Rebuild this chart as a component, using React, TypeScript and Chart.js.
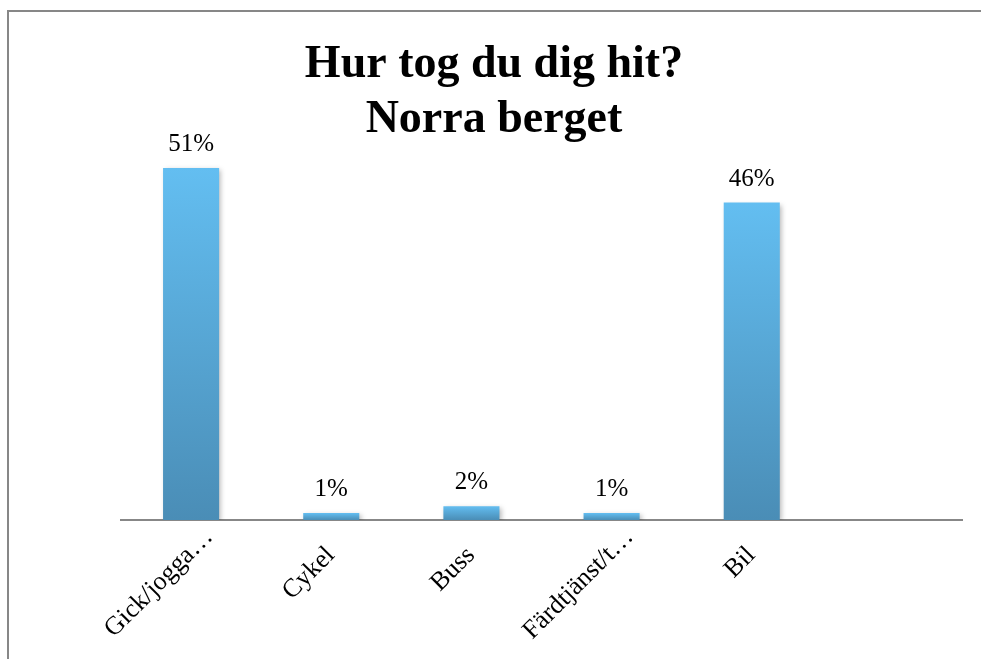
import React, { useEffect, useRef } from "react";
import { Chart, registerables } from "chart.js";

Chart.register(...registerables);

const titleLines = ["Hur tog du dig hit?", "Norra berget"];
const categories = ["Gick/jogga…", "Cykel", "Buss", "Färdtjänst/t…", "Bil", ""];
const values = [51, 1, 2, 1, 46, null];
const yMax = 53;

const TOP_COLOR = "#63bef1";
const BOTTOM_COLOR = "#4a8db6";

const labelPlugin = {
  id: "valueLabels",
  beforeDatasetsDraw(chart: any) {
    const ctx = chart.ctx;
    ctx.save();
    ctx.shadowColor = "rgba(0,0,0,0.28)";
    ctx.shadowBlur = 5;
    ctx.shadowOffsetX = 2;
    ctx.shadowOffsetY = 2;
  },
  afterDatasetsDraw(chart: any) {
    const ctx = chart.ctx;
    ctx.restore();
    const meta = chart.getDatasetMeta(0);
    ctx.save();
    ctx.font = "25px 'Liberation Serif'";
    ctx.fillStyle = "#000";
    ctx.textAlign = "center";
    ctx.textBaseline = "alphabetic";
    meta.data.forEach((el: any, i: number) => {
      const v = values[i];
      if (v === null || v === undefined) return;
      ctx.fillText(v + "%", el.x, el.y - 17);
    });
    ctx.restore();
  },
};

export default function App() {
  const ref = useRef<HTMLCanvasElement>(null);
  useEffect(() => {
    if (!ref.current) return;
    const chart = new Chart(ref.current, {
      type: "bar",
      data: {
        labels: categories,
        datasets: [
          {
            data: values as any,
            backgroundColor: (c: any) => {
              const chart = c.chart;
              const v = c.raw;
              if (!chart.chartArea || v === null || v === undefined) return TOP_COLOR;
              const ys = chart.scales.y;
              const top = ys.getPixelForValue(v);
              const bottom = ys.getPixelForValue(0);
              if (!isFinite(top) || !isFinite(bottom) || bottom - top < 0.5) return TOP_COLOR;
              const g = chart.ctx.createLinearGradient(0, top, 0, bottom);
              g.addColorStop(0, TOP_COLOR);
              g.addColorStop(1, BOTTOM_COLOR);
              return g;
            },
            borderWidth: 0,
            categoryPercentage: 1,
            barPercentage: 0.4,
          },
        ],
      },
      options: {
        responsive: false,
        animation: false,
        events: [],
        layout: { padding: { left: 26, right: 19, top: 0, bottom: 0 } },
        plugins: {
          legend: { display: false },
          tooltip: { enabled: false },
          title: {
            display: true,
            text: titleLines,
            color: "#000",
            font: { family: "'Liberation Serif'", size: 46, weight: "bold", lineHeight: 1.2 },
            padding: { top: 37.4, bottom: 6.4 },
          },
        },
        scales: {
          x: {
            grid: { display: false, drawTicks: false },
            border: { display: true, color: "#878787", width: 2 },
            ticks: {
              color: "#000",
              font: { family: "'Liberation Serif'", size: 26 },
              minRotation: 45,
              maxRotation: 45,
              autoSkip: false,
              padding: 2,
              labelOffset: 18,
              callback: function (this: any, _v: any, i: number) {
                const l = categories[i];
                return l.endsWith("…") || l === "" ? l : l + "    ";
              },
            },
            afterFit: (s: any) => {
              s.height = 139;
            },
          },
          y: {
            display: true,
            min: 0,
            max: yMax,
            grid: { display: false, drawTicks: false },
            border: { display: false },
            ticks: { display: false },
            afterFit: (s: any) => {
              s.width = 95;
            },
          },
        },
      },
      plugins: [labelPlugin],
    });
    return () => chart.destroy();
  }, []);

  return (
    <div style={{ position: "fixed", left: 0, top: 0, width: 981, height: 659, overflow: "hidden", background: "#fff" }}>
      <div
        style={{
          position: "absolute",
          left: 7,
          top: 10,
          width: 1000,
          height: 700,
          borderLeft: "2px solid #878787",
          borderTop: "2px solid #878787",
        }}
      />
      <canvas ref={ref} width={981} height={659} style={{ position: "absolute", left: 0, top: 0 }} />
    </div>
  );
}
